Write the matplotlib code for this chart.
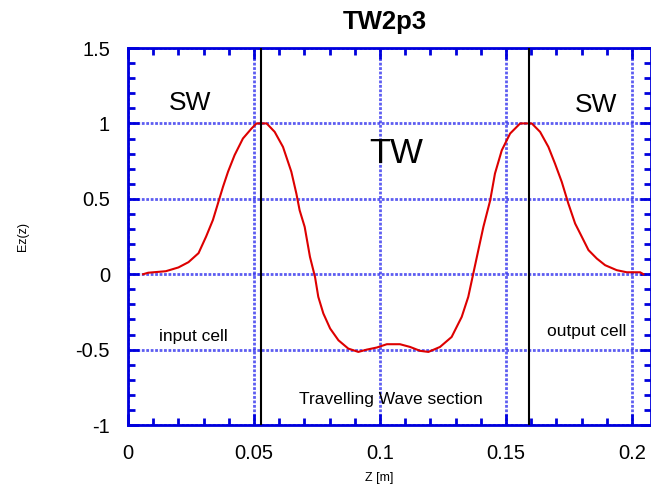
import matplotlib
matplotlib.use('Agg')
import matplotlib.pyplot as plt
from matplotlib.ticker import MultipleLocator

plt.rcParams['font.family'] = ['Liberation Sans', 'DejaVu Sans']

# field profile
z = [0.006, 0.008, 0.015, 0.020, 0.024, 0.028, 0.031, 0.0337, 0.0357, 0.0377,
     0.0397, 0.0423, 0.0456, 0.049, 0.051, 0.055, 0.0582, 0.0615, 0.0648, 0.0668,
     0.0681, 0.0701, 0.0722, 0.0742, 0.0755, 0.0775, 0.0802, 0.0835, 0.0874, 0.0914,
     0.0947, 0.0987, 0.1027, 0.1079, 0.1119, 0.1159, 0.1192, 0.1238, 0.1284, 0.1324,
     0.1350, 0.1370, 0.139, 0.141, 0.1437, 0.1456, 0.1483, 0.1516, 0.1556, 0.1602,
     0.1635, 0.1668, 0.1694, 0.1721, 0.1747, 0.1774, 0.1794, 0.1827, 0.186, 0.1893,
     0.1939, 0.1979, 0.2032, 0.2045]
ez = [0.0, 0.01, 0.02, 0.045, 0.08, 0.14, 0.25, 0.36, 0.47, 0.58,
      0.68, 0.79, 0.90, 0.966, 1.0, 1.0, 0.944, 0.844, 0.68, 0.535,
      0.424, 0.314, 0.115, -0.018, -0.15, -0.26, -0.36, -0.438, -0.493, -0.515,
      -0.50, -0.486, -0.464, -0.464, -0.482, -0.508, -0.515, -0.482, -0.416, -0.283,
      -0.15, 0.005, 0.16, 0.314, 0.49, 0.668, 0.822, 0.933, 1.0, 1.0,
      0.944, 0.844, 0.734, 0.612, 0.469, 0.336, 0.27, 0.16, 0.104, 0.06,
      0.027, 0.013, 0.013, 0.0]

cell_edges = [0.0529, 0.1589]

fig = plt.figure(figsize=(6.51, 4.88), dpi=100)
ax = fig.add_axes([0.1966, 0.129, 0.8034, 0.7726])

blue = '#0000dd'
ax.grid(True, which='major', color='#3333ee', linestyle=(0, (1, 0.6)), linewidth=2, alpha=0.8)
ax.plot(z, ez, color='#dd0000', linewidth=1.5, zorder=3)
for xe in cell_edges:
    ax.axvline(xe, color='black', linewidth=1.5, zorder=4)

ax.set_xlim(0, 0.2075)
ax.set_ylim(-1, 1.5)
ax.xaxis.set_minor_locator(MultipleLocator(0.01))
ax.yaxis.set_minor_locator(MultipleLocator(0.1))
ax.set_xticks([0, 0.05, 0.1, 0.15, 0.2])
ax.set_xticklabels(['0', '0.05', '0.1', '0.15', '0.2'])
ax.set_yticks([-1, -0.5, 0, 0.5, 1, 1.5])
ax.set_yticklabels(['-1', '-0.5', '0', '0.5', '1', '1.5'])

for s in ax.spines.values():
    s.set_color(blue)
    s.set_linewidth(2)
ax.tick_params(which='both', direction='in', top=True, right=True, color=blue, width=2, labelsize=14.5)
ax.tick_params(which='major', length=8)
ax.tick_params(which='minor', length=5)
ax.tick_params(axis='x', which='major', pad=14)
ax.tick_params(axis='y', which='major', pad=13)

ax.set_title('TW2p3', fontsize=18.5, fontweight='bold', x=0.491, pad=14)
ax.set_xlabel('Z [m]', fontsize=9)
ax.xaxis.set_label_coords(0.48, -0.125)
ax.set_ylabel('Ez(z)', fontsize=9)
ax.yaxis.set_label_coords(-0.19, 0.5)

ax.text(0.0246, 1.135, 'SW', fontsize=19, ha='center', va='center')
ax.text(0.1856, 1.125, 'SW', fontsize=19, ha='center', va='center')
ax.text(0.1066, 0.8, 'TW', fontsize=25, ha='center', va='center')
ax.text(0.0258, -0.416, 'input cell', fontsize=12.5, ha='center', va='center')
ax.text(0.182, -0.383, 'output cell', fontsize=12.5, ha='center', va='center')
ax.text(0.1044, -0.83, 'Travelling Wave section', fontsize=12.5, ha='center', va='center')

plt.savefig('out.png', dpi=100)
